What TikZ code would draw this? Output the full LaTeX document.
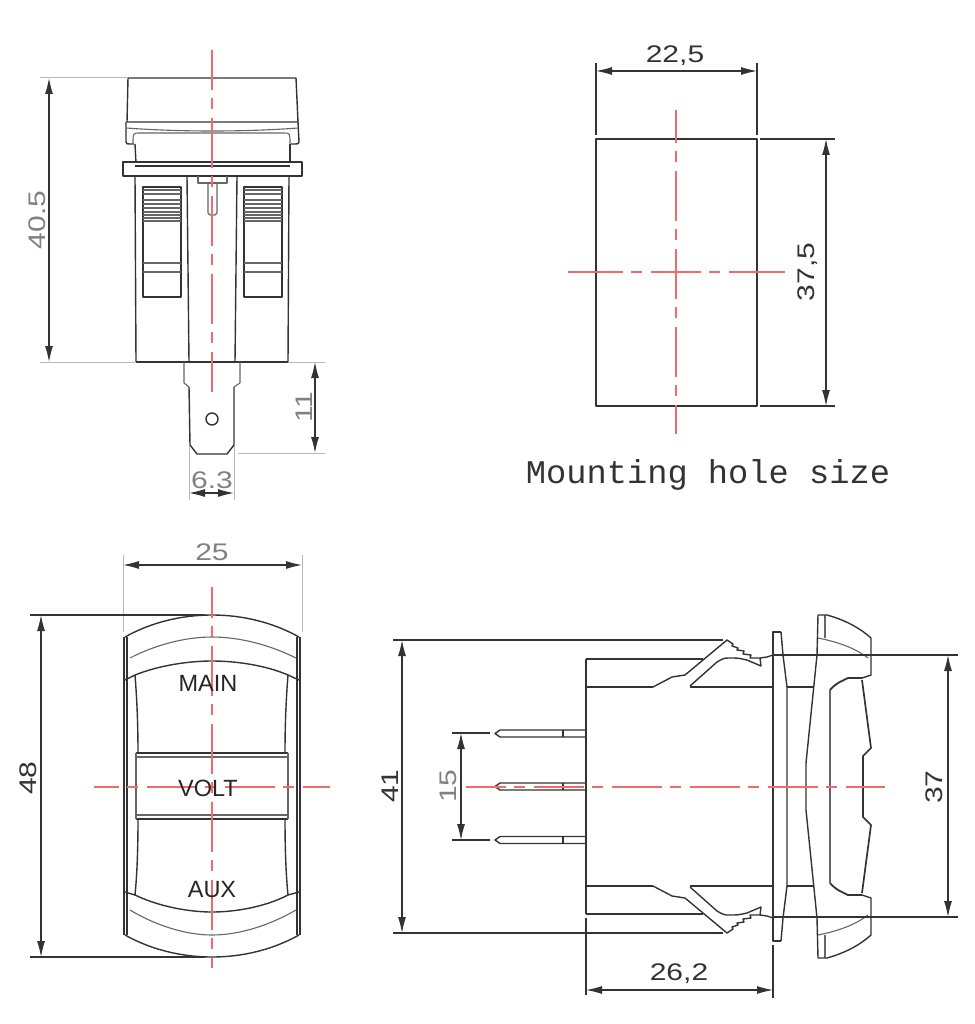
\documentclass[tikz,border=0pt]{standalone}
\usepackage{fontspec}
\setmainfont{Liberation Sans}
\newfontfamily\monof{Liberation Mono}
\usetikzlibrary{arrows.meta}
\definecolor{ink}{HTML}{333333}
\definecolor{thin}{HTML}{666666}
\definecolor{lite}{HTML}{B8B8B8}
\definecolor{cl}{HTML}{F26A6A}
\tikzset{
 part/.style={draw=ink,line width=1.4pt,line join=round},
 parthin/.style={draw=thin,line width=1.1pt,line join=round},
 ext/.style={draw=lite,line width=1pt},
 extd/.style={draw=ink,line width=1.1pt},
 dimline/.style={draw=ink,line width=1.1pt,{Latex[length=16pt,width=8pt]}-{Latex[length=16pt,width=8pt]}},
 center/.style={draw=cl,line width=1.2pt,dash pattern=on 50pt off 8pt on 11pt off 9pt},
 clsolid/.style={draw=cl,line width=1.2pt},
 dimtxt/.style={font=\fontsize{24}{24}\selectfont,text=ink,inner sep=0pt},
 dimlite/.style={font=\fontsize{24}{24}\selectfont,text=black!50,inner sep=0pt},
 lab/.style={font=\fontsize{23.5}{24}\selectfont,text=black!85,inner sep=0pt},
}
\newcommand{\widen}[1]{\scalebox{1.25}[1]{#1}}
\newcommand{\halfshape}{%
  \draw[part] (653,687) -- (672,677) -- (685,675) -- (727,640) -- (733,644) -- (732,646) -- (738,648) -- (737,650) -- (744,651) -- (743,654) -- (751,655) -- (750,658) -- (760,658) -- (767,657) -- (773,655);
  \draw[part] (690,686) -- (717,662) .. controls (724,658) .. (730,658) .. controls (738,658) .. (747,660) -- (761,666) -- (760,658);
  \draw[parthin] (818,638) .. controls (838,642) and (855,648) .. (868,658);
  \draw[parthin] (825,615) -- (825,638);
  \draw[part] (806,787) -- (806,763) -- (817,655) -- (818,615) -- (827,615) .. controls (845,620) and (860,628) .. (871,638) -- (871,675) -- (862,678);
  \draw[part,line width=1.8pt] (830,690) .. controls (836,683) and (842,681) .. (848,678) -- (862,678);
  \draw[part,line width=1.7pt] (862,680) -- (871,748) -- (863,756) -- (863,787);
  \draw[part] (781,632) -- (773,632) -- (773,787);
  \draw[part] (781,632) -- (783,655) -- (787,687) -- (787,787);
}
\begin{document}
\begin{tikzpicture}[x=1pt,y=-1pt]
\useasboundingbox (0,0) rectangle (974,1024);
\fill[white] (0,0) rectangle (974,1024);

% ---------- top-left: side view
\draw[part] (127,122) -- (128,78) -- (296,78) -- (298,122) -- cycle;
\draw[part] (126,122) -- (126,142) .. controls (126,144) .. (134,144);
\draw[part] (298,122) -- (299,142) .. controls (299,144) .. (291,144);
\draw[parthin] (126,128) .. controls (180,132) and (245,132) .. (298,128);
\draw[parthin] (133,144) .. controls (133,133) .. (140,133) -- (284,133) .. controls (290,133) .. (290,144);
\draw[part] (135,144) -- (136,163);
\draw[part] (290,144) -- (290,163);
\draw[part] (123,162) rectangle (302,176);
\draw[part] (135,166) -- (290,166);
\draw[part] (135,176) -- (136,362);
\draw[part] (289,176) -- (288,362);
\draw[part] (187,176) -- (189,362);
\draw[part] (237,176) -- (235,362);
\draw[part] (136,362) -- (288,362);
\draw[parthin] (198,176) -- (198,183) -- (227,183) -- (227,176);
\draw[parthin] (208,183) -- (208,213) -- (210,215) -- (215,215) -- (217,213) -- (217,183);
\foreach \xa/\xb in {143/181,244/282}{
  \draw[part] (\xa,187) rectangle (\xb,297);
  \foreach \yy in {190,194,200,204,208,212,215,218,221}
    \draw[parthin] (\xa,\yy) -- (\xb,\yy);
  \draw[parthin] (\xa,263) -- (\xb,263);
  \draw[parthin] (\xa,272) -- (\xb,272);
}
\draw[parthin] (184,362) -- (184,383) -- (189,387);
\draw[parthin] (240,362) -- (240,383) -- (234,387);
\draw[part] (189,387) -- (190,445) -- (197,454) -- (227,454) -- (234,445) -- (234,387);
\draw[part] (212,419) circle (6);
\draw[center,dash phase=10pt] (212,50) -- (212,392);
% dims
\draw[ext] (40,78) -- (127,78);
\draw[ext] (40,362) -- (135,362);
\draw[dimline] (49,78) -- (49,362);
\node[dimlite,rotate=90] (d405) at (37,220) {\widen{40.5}};
\draw[ext] (288,362) -- (325,362);
\draw[ext] (238,453) -- (325,453);
\draw[dimline] (315,362) -- (315,453);
\node[dimlite,rotate=90] (d11) at (304,407) {\widen{11}};
\draw[ext] (189,446) -- (189,500);
\draw[ext] (234,446) -- (234,500);
\draw[dimline] (189,493) -- (234,493);
\node[dimlite] (d63) at (212,480) {\widen{6.3}};

% ---------- top-right: hole
\draw[part] (596,139) rectangle (757,406);
\draw[center,dash phase=17pt] (676,110) -- (676,434);
\draw[clsolid] (568,272) -- (573,272);
\draw[center] (573,272) -- (779,272);
\draw[clsolid] (778,272) -- (785,272);
\draw[extd] (596,63) -- (596,135);
\draw[extd] (757,63) -- (757,135);
\draw[dimline] (596,71) -- (757,71);
\node[dimtxt] (d225) at (675,56) {\widen{22,5}};
\draw[extd] (760,139) -- (835,139);
\draw[extd] (760,406) -- (835,406);
\draw[dimline] (826,139) -- (826,406);
\node[dimtxt,rotate=90] (d375) at (808,272) {\widen{37,5}};
\node[font=\monof\fontsize{31.5}{32}\selectfont,text=black!80,inner sep=0pt] (mh) at (708,475) {\scalebox{1.07}[1.05]{Mounting hole size}};

% ---------- bottom-left: front view
\foreach \xx in {124,127,297,300} \draw[part] (\xx,637) -- (\xx,935);
\draw[part] (125,637) .. controls (150,623) and (180,615) .. (212,615) .. controls (244,615) and (274,623) .. (299,637);
\draw[parthin] (130,658) .. controls (155,645) and (185,637) .. (212,637) .. controls (240,637) and (270,645) .. (296,658);
\draw[part] (125,680) -- (135,675) .. controls (160,665) and (190,661) .. (212,661) .. controls (235,661) and (265,665) .. (288,675) -- (299,680);
\draw[part] (135,675) .. controls (137,700) and (138,725) .. (138,753);
\draw[part] (288,675) .. controls (286,700) and (285,725) .. (285,753);
\draw[part] (136,753) -- (288,753);
\draw[parthin] (136,757) -- (288,757);
\draw[part] (136,819) -- (288,819);
\draw[parthin] (136,815) -- (288,815);
\draw[parthin] (136,753) -- (136,819);
\draw[parthin] (288,753) -- (288,819);
\draw[part] (138,819) .. controls (138,850) and (137,875) .. (135,895);
\draw[part] (285,819) .. controls (285,850) and (286,875) .. (288,895);
\draw[part] (125,892) -- (135,895) .. controls (160,907) and (190,912) .. (212,912) .. controls (235,912) and (265,907) .. (288,895) -- (299,892);
\draw[parthin] (130,910) .. controls (155,925) and (185,935) .. (212,935) .. controls (240,935) and (270,925) .. (296,910);
\draw[part] (125,935) .. controls (150,949) and (180,957) .. (212,957) .. controls (244,957) and (274,949) .. (299,935);
\draw[center,dash phase=19pt] (212,587) -- (212,968);
\draw[center,dash phase=25pt] (94,787) -- (330,787);
\node[lab] (lmain) at (208,683) {MAIN};
\node[lab] (lvolt) at (208,788) {VOLT};
\node[lab] (laux) at (212,890) {AUX};
\draw[ext] (123,555) -- (123,632);
\draw[ext] (302,555) -- (302,632);
\draw[dimline] (123,565) -- (302,565);
\node[dimlite] (d25) at (212,552) {\widen{25}};
\draw[extd] (30,615) -- (205,615);
\draw[extd] (30,957) -- (205,957);
\draw[dimline] (41,615) -- (41,957);
\node[dimtxt,rotate=90] (d48) at (28,778) {\widen{48}};

% ---------- bottom-right: profile
\draw[part] (586,659) -- (586,914);
\draw[part] (586,659) -- (703,659);
\draw[part] (586,687) -- (653,687);
\draw[part] (690,687) -- (773,687);
\draw[part] (787,687) -- (813,687);
\draw[part] (586,914) -- (703,914);
\draw[part] (586,886) -- (653,886);
\draw[part] (690,886) -- (773,886);
\draw[part] (787,886) -- (813,886);
\halfshape
\begin{scope}[yshift=-1573pt,yscale=-1]
\halfshape
\end{scope}
\draw[parthin] (830,690) -- (830,883);
% pins
\foreach \yy in {733.5,786.5,840}{
  \draw[part] (586,\yy-3.5) -- (500,\yy-3.5) -- (495,\yy) -- (500,\yy+3.5) -- (586,\yy+3.5);
  \draw[part,line width=2.2pt] (563,\yy-3.5) -- (563,\yy+3.5);
}
\draw[center,dash phase=10pt] (466,787) -- (885,787);
% dims
\draw[extd] (393,640) -- (723,640);
\draw[extd] (393,933) -- (723,933);
\draw[dimline] (402,640) -- (402,933);
\node[dimtxt,rotate=90] (d41) at (390,786) {\widen{41}};
\draw[extd] (452,733) -- (490,733);
\draw[extd] (452,840) -- (490,840);
\draw[dimline] (461,733) -- (461,840);
\node[dimlite,rotate=90] (d15) at (448,786) {\widen{15}};
\draw[extd] (773,655) -- (958,655);
\draw[extd] (773,917) -- (958,917);
\draw[dimline] (948,655) -- (948,917);
\node[dimtxt,rotate=90] (d37) at (934,787) {\widen{37}};
\draw[extd] (586,918) -- (586,995);
\draw[extd] (773,945) -- (773,998);
\draw[dimline] (586,990) -- (773,990);
\node[dimtxt] (d262) at (679,974) {\widen{26,2}};
\end{tikzpicture}
\end{document}
